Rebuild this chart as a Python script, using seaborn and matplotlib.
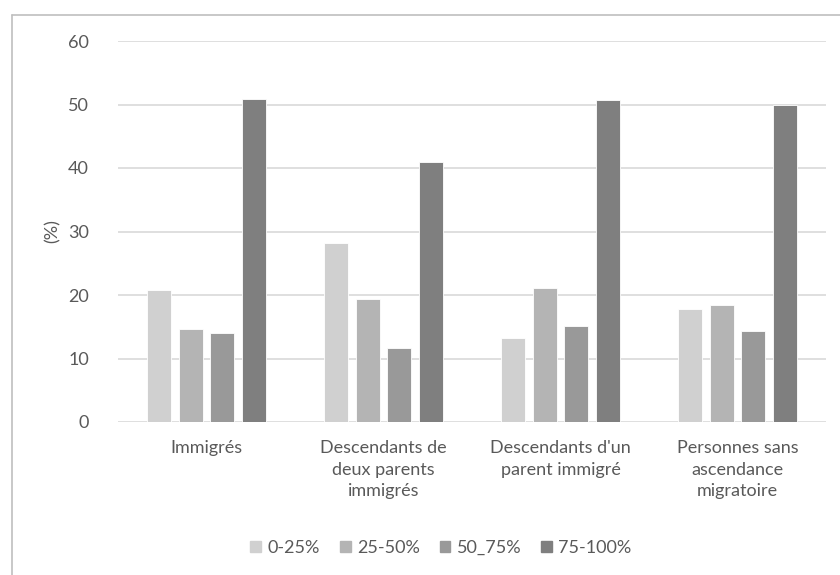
import matplotlib
matplotlib.use("Agg")
import matplotlib.pyplot as plt
import seaborn as sns
import pandas as pd
from matplotlib.lines import Line2D

categories = ["Immigrés", "Descendants de\ndeux parents\nimmigrés",
              "Descendants d'un\nparent immigré", "Personnes sans\nascendance\nmigratoire"]
series = ["0-25%", "25-50%", "50_75%", "75-100%"]
v_0_25 = [20.8, 28.2, 13.3, 17.8]
v_25_50 = [14.6, 19.4, 21.1, 18.5]
v_50_75 = [14.0, 11.7, 15.1, 14.4]
v_75_100 = [50.8, 40.9, 50.7, 49.9]
colors = ["#D0D0D0", "#B4B4B4", "#999999", "#7F7F7F"]

rows = []
for s, vals in zip(series, [v_0_25, v_25_50, v_50_75, v_75_100]):
    for c, v in zip(categories, vals):
        rows.append({"cat": c, "serie": s, "val": v})
df = pd.DataFrame(rows)

sns.set_theme(style="white")
plt.rcParams["font.family"] = ["Lato", "DejaVu Sans"]
txt = "#595959"
fs = 13

fig = plt.figure(figsize=(8.4, 5.75), dpi=100)
ax = fig.add_axes([118/840, 1-422/575, (826-118)/840, (422-41)/575])
sns.barplot(data=df, x="cat", y="val", hue="serie", palette=colors,
            width=0.72, ax=ax, legend=True, saturation=1, errorbar=None)

bw = 0.135
for p in ax.patches:
    if p.get_height() > 0:
        cx = p.get_x() + p.get_width()/2
        p.set_x(cx - bw/2)
        p.set_width(bw)
        p.set_edgecolor("white")
        p.set_linewidth(0.6)

ax.set_ylim(0, 60)
ax.set_xlim(-0.5, 3.5)
ax.set_yticks(range(0, 61, 10))
ax.yaxis.grid(True, color="#D9D9D9", linewidth=1.2)
ax.set_axisbelow(True)
for sp in ax.spines.values():
    sp.set_visible(False)
ax.tick_params(axis="both", length=0, colors=txt, labelsize=fs)
ax.tick_params(axis="y", pad=21)
ax.tick_params(axis="x", pad=13)
for lab in ax.get_xticklabels():
    lab.set_linespacing(1.42)
    lab.set_va("top")
ax.set_xlabel("")
ax.set_ylabel("(%)", color=txt, fontsize=fs, labelpad=5)

leg = ax.get_legend()
leg.remove()
handles = [plt.Rectangle((0, 0), 1, 1, color=c) for c in colors]
fig.legend(handles, series, loc="center", bbox_to_anchor=(0.525, 1-548/575),
           ncol=4, frameon=False, handlelength=0.6, handleheight=0.6,
           handletextpad=0.35, columnspacing=1.1, fontsize=fs, labelcolor=txt)

# outer border (top and left)
fig.add_artist(Line2D([11.5/840, 1.0], [1-14.5/575]*2, color="#BFBFBF", linewidth=1.2,
                      transform=fig.transFigure))
fig.add_artist(Line2D([11.5/840]*2, [0, 1-14.5/575], color="#BFBFBF", linewidth=1.2,
                      transform=fig.transFigure))

fig.savefig("out.png", dpi=100, facecolor="white")
